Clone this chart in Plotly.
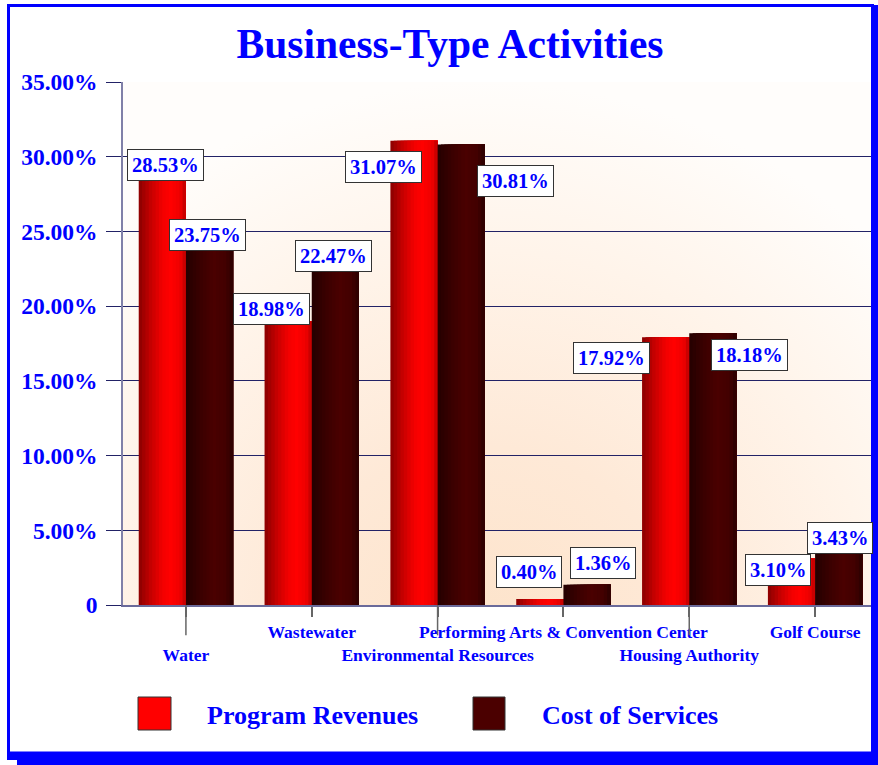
import base64
import plotly.graph_objects as go

# ---------------- data ----------------
categories = ["Water", "Wastewater", "Environmental Resources",
              "Performing Arts & Convention Center", "Housing Authority", "Golf Course"]
tick_labels = ["<br>Water", "Wastewater", "<br>Environmental Resources",
               "Performing Arts & Convention Center", "<br>Housing Authority", "Golf Course"]
program_revenues = [28.53, 18.98, 31.07, 0.40, 17.92, 3.10]
cost_of_services = [23.75, 22.47, 30.81, 1.36, 18.18, 3.43]
series_names = ["Program Revenues", "Cost of Services"]
y_tick_values = [0, 5, 10, 15, 20, 25, 30, 35]
y_tick_text = ["0", "5.00%", "10.00%", "15.00%", "20.00%", "25.00%", "30.00%", "35.00%"]

# ---------------- styling ----------------
W, H = 878, 765
PLOT_L, PLOT_R, PLOT_T, PLOT_B = 123, 878, 82, 605     # pixel positions
ML, MR, MT, MB = PLOT_L, W - PLOT_R, PLOT_T, H - PLOT_B
PW, PH = PLOT_R - PLOT_L, PLOT_B - PLOT_T
BLUE = "#0000ff"
FONT = "Liberation Serif"
BAR_W = 0.375          # each bar's width in category units
N_STRIPS = 14

# label offsets (pixels) relative to top-centre of each bar (dx right, dy down)
red_label_dx = [3, -17, -30, -11, -54, -13]
red_label_dy = [-14, -12, 26, -27, 21, 11]
dark_label_dx = [-2, -2, 54, 16, 37, 1]
dark_label_dy = [-15, -13, 36, -22, 22, -16]

red_stops = [(0.0, (0x8a, 0, 0)), (0.25, (0xc4, 0, 0)), (0.5, (0xf2, 0, 0)),
             (0.68, (0xff, 0, 0)), (0.88, (0xee, 0, 0)), (1.0, (0xbb, 0, 0))]
dark_stops = [(0.0, (0x24, 0, 0)), (0.3, (0x3a, 0, 0)), (0.6, (0x4a, 0, 0)),
              (0.85, (0x42, 0, 0)), (1.0, (0x2a, 0, 0))]


def grad_color(stops, t):
    for (t0, c0), (t1, c1) in zip(stops[:-1], stops[1:]):
        if t0 <= t <= t1:
            f = (t - t0) / (t1 - t0) if t1 > t0 else 0
            c = [round(a + (b - a) * f) for a, b in zip(c0, c1)]
            return "rgb(%d,%d,%d)" % tuple(c)
    return "rgb(%d,%d,%d)" % stops[-1][1]


def px_x(px):
    return (px - PLOT_L) / PW


def px_y(py):
    return (PLOT_B - py) / PH


fig = go.Figure()

# bars drawn as overlapping strips to imitate cylinder shading
for values, stops, base in [(program_revenues, red_stops, -BAR_W),
                            (cost_of_services, dark_stops, 0.0)]:
    for k in range(N_STRIPS):
        step = BAR_W / N_STRIPS
        fig.add_trace(go.Bar(
            x=categories, y=values,
            offset=base + k * step, width=BAR_W - k * step,
            marker=dict(color=grad_color(stops, (k + 0.5) / N_STRIPS), line=dict(width=0)),
            showlegend=False, hoverinfo="skip",
        ))

# data labels
cat_w_px = PW / len(categories)
half_px = BAR_W / 2 * cat_w_px
annotations = []
for vals, dxs, dys, sign in [(program_revenues, red_label_dx, red_label_dy, -1),
                             (cost_of_services, dark_label_dx, dark_label_dy, 1)]:
    for cat, v, dx, dy in zip(categories, vals, dxs, dys):
        annotations.append(dict(
            x=cat, y=v, xref="x", yref="y", text=f"{v:.2f}%", showarrow=False,
            xanchor="center", yanchor="middle",
            xshift=sign * half_px + dx, yshift=-dy,
            font=dict(family=FONT, size=20.5, color=BLUE, weight="bold"),
            bgcolor="white", bordercolor="#333333", borderwidth=1, borderpad=4,
        ))

# legend (manual)
legend_items = [(series_names[0], "#ff0000", 138, 171, 205),
                (series_names[1], "#4b0000", 473, 505, 540)]
shapes = []
for name, col, x0, x1, tx in legend_items:
    shapes.append(dict(type="rect", xref="paper", yref="paper",
                       x0=px_x(x0), x1=px_x(x1), y0=px_y(730), y1=px_y(697),
                       fillcolor=col, line=dict(color="#333333", width=1), layer="above"))
    annotations.append(dict(x=px_x(tx), y=px_y(715), xref="paper", yref="paper",
                            text=name, showarrow=False, xanchor="left", yanchor="middle",
                            font=dict(family=FONT, size=26, color=BLUE, weight="bold")))

# longer ticks for lower row labels
for i, t in enumerate(tick_labels):
    if t.startswith("<br>"):
        shapes.append(dict(type="line", xref="x", yref="y domain", x0=i, x1=i,
                           y0=0, y1=-0.058, line=dict(color="#666666", width=1.5)))

# frame with shadow
shapes += [
    dict(type="rect", xref="paper", yref="paper", x0=px_x(872), x1=px_x(882),
         y0=px_y(767), y1=px_y(5), fillcolor=BLUE, line=dict(width=0), layer="above"),
    dict(type="rect", xref="paper", yref="paper", x0=px_x(17), x1=px_x(882),
         y0=px_y(767), y1=px_y(755), fillcolor=BLUE, line=dict(width=0), layer="above"),
    dict(type="rect", xref="paper", yref="paper", x0=px_x(7), x1=px_x(873),
         y0=px_y(760), y1=px_y(752), fillcolor=BLUE, line=dict(width=0), layer="above"),
    dict(type="rect", xref="paper", yref="paper", x0=px_x(8.5), x1=px_x(872.5),
         y0=px_y(753), y1=px_y(5.5), line=dict(color=BLUE, width=3), layer="above"),
]

# background gradient for the plot area
svg = f'''<svg xmlns="http://www.w3.org/2000/svg" width="{PW}" height="{PH}" viewBox="0 0 {PW} {PH}" preserveAspectRatio="none">
<defs><radialGradient id="g" gradientUnits="userSpaceOnUse" cx="360" cy="560" r="560">
<stop offset="0" stop-color="#fde3ca"/><stop offset="0.35" stop-color="#fee9d7"/>
<stop offset="0.7" stop-color="#fff4ea"/><stop offset="1" stop-color="#fffdfb"/>
</radialGradient></defs><rect x="0" y="0" width="{PW}" height="{PH}" fill="url(#g)"/></svg>'''
img_src = "data:image/svg+xml;base64," + base64.b64encode(svg.encode()).decode()

fig.update_layout(
    width=W, height=H,
    margin=dict(l=ML, r=MR, t=MT, b=MB, autoexpand=False),
    paper_bgcolor="white", plot_bgcolor="rgba(0,0,0,0)",
    barmode="overlay",
    showlegend=False,
    title=dict(text="Business-Type Activities", x=450 / W, xref="container",
               xanchor="center", y=1 - 43 / H, yref="container", yanchor="middle",
               font=dict(family=FONT, size=41.5, color=BLUE, weight="bold")),
    annotations=annotations,
    shapes=shapes,
    images=[dict(source=img_src, xref="paper", yref="paper", x=0, y=1, sizex=1, sizey=1,
                 sizing="stretch", xanchor="left", yanchor="top", layer="below")],
    xaxis=dict(type="category", tickmode="array", tickvals=categories, ticktext=tick_labels,
               tickangle=0, automargin=False,
               ticks="outside", ticklen=10, tickcolor="#666666", tickwidth=1.5,
               showline=True, linecolor="#6a6a9a", linewidth=2, showgrid=False,
               tickfont=dict(family=FONT, size=17.5, color=BLUE, weight="bold"),
               range=[-0.5, 5.5]),
    yaxis=dict(range=[0, 35], tickmode="array", tickvals=y_tick_values, ticktext=y_tick_text,
               automargin=False,
               ticks="outside", ticklen=15, tickcolor="#222266", tickwidth=1,
               showgrid=True, gridcolor="#222266", gridwidth=1,
               showline=True, linecolor="#8080a8", linewidth=1.5, zeroline=False,
               ticklabelstandoff=4,
               tickfont=dict(family=FONT, size=23.5, color=BLUE, weight="bold")),
)

fig.write_html(
    "out.html",
    config={"displayModeBar": False},
    post_script="document.body.style.margin='0';document.body.style.padding='0';"
                "document.documentElement.style.overflow='hidden';",
)
